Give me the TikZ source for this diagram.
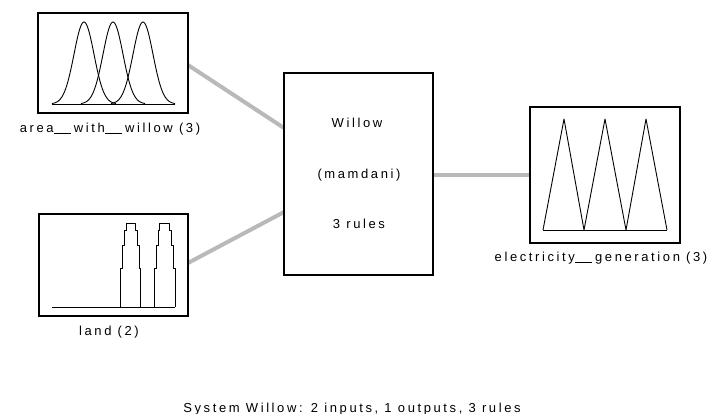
\documentclass[tikz,border=0pt]{standalone}
\usepackage{fontspec}
\setmainfont{Liberation Sans}[LetterSpace=20]
\definecolor{wire}{RGB}{185,185,185}
% a double underscore drawn as one unbroken bar
\newcommand{\dblbar}{\kern0.5pt\rule[-2.2pt]{17pt}{0.9pt}\kern2.8pt}
\tikzset{
  mfbox/.style={draw=black, line width=2pt, fill=white, inner sep=0pt},
  hubbox/.style={draw=black, line width=1.6pt, fill=white, inner sep=0pt},
  wireline/.style={draw=wire, line width=4pt},
  mfcurve/.style={draw=black, line width=0.9pt, line join=round},
  lbl/.style={font=\fontsize{13}{15}\selectfont, inner sep=0pt, anchor=base}
}
\begin{document}
\begin{tikzpicture}[x=1pt, y=-1pt]
\useasboundingbox (0,0) rectangle (708,414);

% wire end points
\coordinate (src1) at (188,65);
\coordinate (src2) at (188,263);
\coordinate (in1) at (284,128);
\coordinate (in2) at (284,212);
\coordinate (out1) at (433,175);
\coordinate (out2) at (530,175);

% wires between the blocks
\path[wireline] (src1) -- (in1);
\path[wireline] (src2) -- (in2);
\path[wireline] (out1) -- (out2);

% input, rule block and output boxes
\node[mfbox, minimum width=150pt, minimum height=100pt] (area) at (113,63) {};
\node[mfbox, minimum width=149pt, minimum height=102pt] (land) at (113.5,265) {};
\node[hubbox, minimum width=149pt, minimum height=202pt] (hub) at (358.5,174) {};
\node[mfbox, minimum width=150pt, minimum height=136pt] (elec) at (605,175) {};

% gaussian membership functions
\draw[mfcurve] (52,104) -- (175,104);
\foreach \m in {84,113,143}{
  \draw[mfcurve] plot[domain=\m-32:\m+32, samples=70]
    (\x, {104 - 82*exp(-((\x-\m)*(\x-\m))/200)});
}

% narrow membership functions
\draw[mfcurve] (52,307) -- (175,307);
\draw[mfcurve] (120,307) -- (120,268) -- (122,268) -- (122,245) -- (124,245) -- (124,230) -- (126,230) -- (126,223)
  -- (135,223) -- (135,230) -- (137,230) -- (137,245) -- (139,245) -- (139,268) -- (140,268) -- (140,307);
\draw[mfcurve] (154,307) -- (154,268) -- (156,268) -- (156,245) -- (158,245) -- (158,230) -- (159,230) -- (159,223)
  -- (169,223) -- (169,230) -- (171,230) -- (171,245) -- (173,245) -- (173,268) -- (175,268) -- (175,307);

% triangular membership functions
\draw[mfcurve] (543,230) -- (667,230);
\draw[mfcurve] (543,230) -- (564,119) -- (584,230) -- (605,119) -- (626,230) -- (646,119) -- (667,230);

% labels
\node[lbl] (areaT) at (110,132) {area\dblbar with\dblbar willow (3)};
\node[lbl] (landT) at (109,335) {land (2)};
\node[lbl] (elecT) at (601,261) {electricity\dblbar generation (3)};
\node[lbl] (h1) at (357,128) {Willow};
\node[lbl] (h2) at (359,178) {(mamdani)};
\node[lbl] (h3) at (359,228) {3 rules};
\node[lbl] (sys) at (352,412) {System Willow: 2 inputs, 1 outputs, 3 rules};
\end{tikzpicture}
\end{document}
